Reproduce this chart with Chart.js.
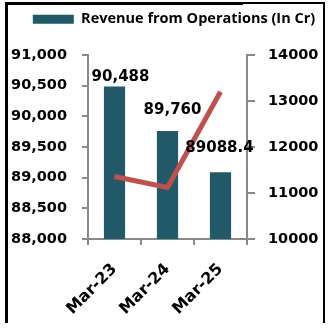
<!DOCTYPE html>
<html>
<head>
<meta charset="utf-8">
<script src="https://cdn.jsdelivr.net/npm/chart.js@4.4.1/dist/chart.umd.min.js"></script>
<style>
  html, body { margin: 0; padding: 0; background: #fff; }
  #wrap { position: relative; width: 328px; height: 335px; overflow: hidden; }
  #chart { position: absolute; left: 0; top: 0; }
  .frame { position: absolute; left: 5px; top: 2px; width: 315px; height: 319px;
    border-top: 2px solid #000; border-left: 3px solid #000; border-right: 2px solid #000; }
  .frameTop { position: absolute; left: 5px; top: 2px; width: 238px; height: 3px; background: #000; }
</style>
</head>
<body>
<div id="wrap">
  <canvas id="chart" width="328" height="335"></canvas>
  <div class="frame"></div>
  <div class="frameTop"></div>
</div>
<script>
const categories = ['Mar-23', 'Mar-24', 'Mar-25']
const revenue = [90488, 89760, 89088.4]
const revenueLabels = ['90,488', '89,760', '89088.4']
const secondSeries = [11360, 11120, 13200]

const axisGrey = '#898989'
const tickFont = { family: 'DejaVu Sans', weight: 'bold', size: 14.5 }

// bar value labels, nudged like the original
const barLabels = {
  id: 'barLabels',
  afterDatasetsDraw (chart) {
    const nudge = [[6, -9], [5, -21], [-1, -24]]
    const ctx = chart.ctx
    const meta = chart.getDatasetMeta(0)
    ctx.save()
    ctx.font = 'bold 15px "DejaVu Sans"'
    ctx.fillStyle = '#000'
    ctx.textAlign = 'center'
    ctx.textBaseline = 'middle'
    meta.data.forEach((bar, i) => {
      ctx.fillText(revenueLabels[i], bar.x + nudge[i][0], bar.y + nudge[i][1])
    })
    ctx.restore()
  }
}

// legend block is taller and sits a bit right of centre
const legendSpace = {
  id: 'legendSpace',
  beforeInit (chart) {
    const fit = chart.legend.fit
    chart.legend.fit = function () {
      fit.bind(chart.legend)()
      this.height = 55
    }
  },
  afterLayout (chart) {
    chart.legend.left += 6
    chart.legend.right += 6
  }
}

new Chart(document.getElementById('chart'), {
  data: {
    labels: categories,
    datasets: [
      {
        type: 'bar',
        label: 'Revenue from Operations (In Cr)',
        data: revenue,
        yAxisID: 'y',
        backgroundColor: '#215968',
        barPercentage: 0.4,
        categoryPercentage: 1,
        order: 1
      },
      {
        type: 'line',
        label: 'Other',
        data: secondSeries,
        yAxisID: 'y1',
        borderColor: '#C0504D',
        borderWidth: 5,
        pointRadius: 0,
        tension: 0,
        fill: false,
        order: 0
      }
    ]
  },
  options: {
    responsive: false,
    animation: false,
    layout: { padding: { left: 8, right: 0, top: 0, bottom: 0 } },
    plugins: {
      tooltip: { enabled: false },
      legend: {
        labels: {
          filter: item => item.datasetIndex === 0,
          boxWidth: 41,
          boxHeight: 9,
          padding: 12,
          color: '#000',
          font: { family: 'Open Sans', weight: 'bold', size: 14.5 }
        }
      }
    },
    scales: {
      x: {
        afterFit: s => { s.height = 96 },
        grid: { drawOnChartArea: false, tickLength: 6, color: axisGrey, lineWidth: 2 },
        border: { color: axisGrey, width: 2 },
        ticks: { color: '#000', font: { family: 'DejaVu Sans', weight: 'bold', size: 16 }, minRotation: 45, maxRotation: 45, padding: 15 }
      },
      y: {
        position: 'left',
        min: 88000,
        max: 91000,
        afterFit: s => { s.width = 80 },
        grid: { drawOnChartArea: false, tickLength: 6, color: axisGrey, lineWidth: 2 },
        border: { color: axisGrey, width: 2 },
        ticks: {
          stepSize: 500,
          padding: 15,
          color: '#000',
          font: tickFont,
          callback: v => v.toLocaleString('en-US')
        }
      },
      y1: {
        position: 'right',
        min: 10000,
        max: 14000,
        afterFit: s => { s.width = 81 },
        grid: { drawOnChartArea: false, tickLength: 8, color: axisGrey, lineWidth: 2 },
        border: { color: axisGrey, width: 2 },
        ticks: {
          stepSize: 1000,
          padding: 13,
          color: '#000',
          font: tickFont,
          callback: v => String(v)
        }
      }
    }
  },
  plugins: [barLabels, legendSpace]
})
</script>
</body>
</html>
